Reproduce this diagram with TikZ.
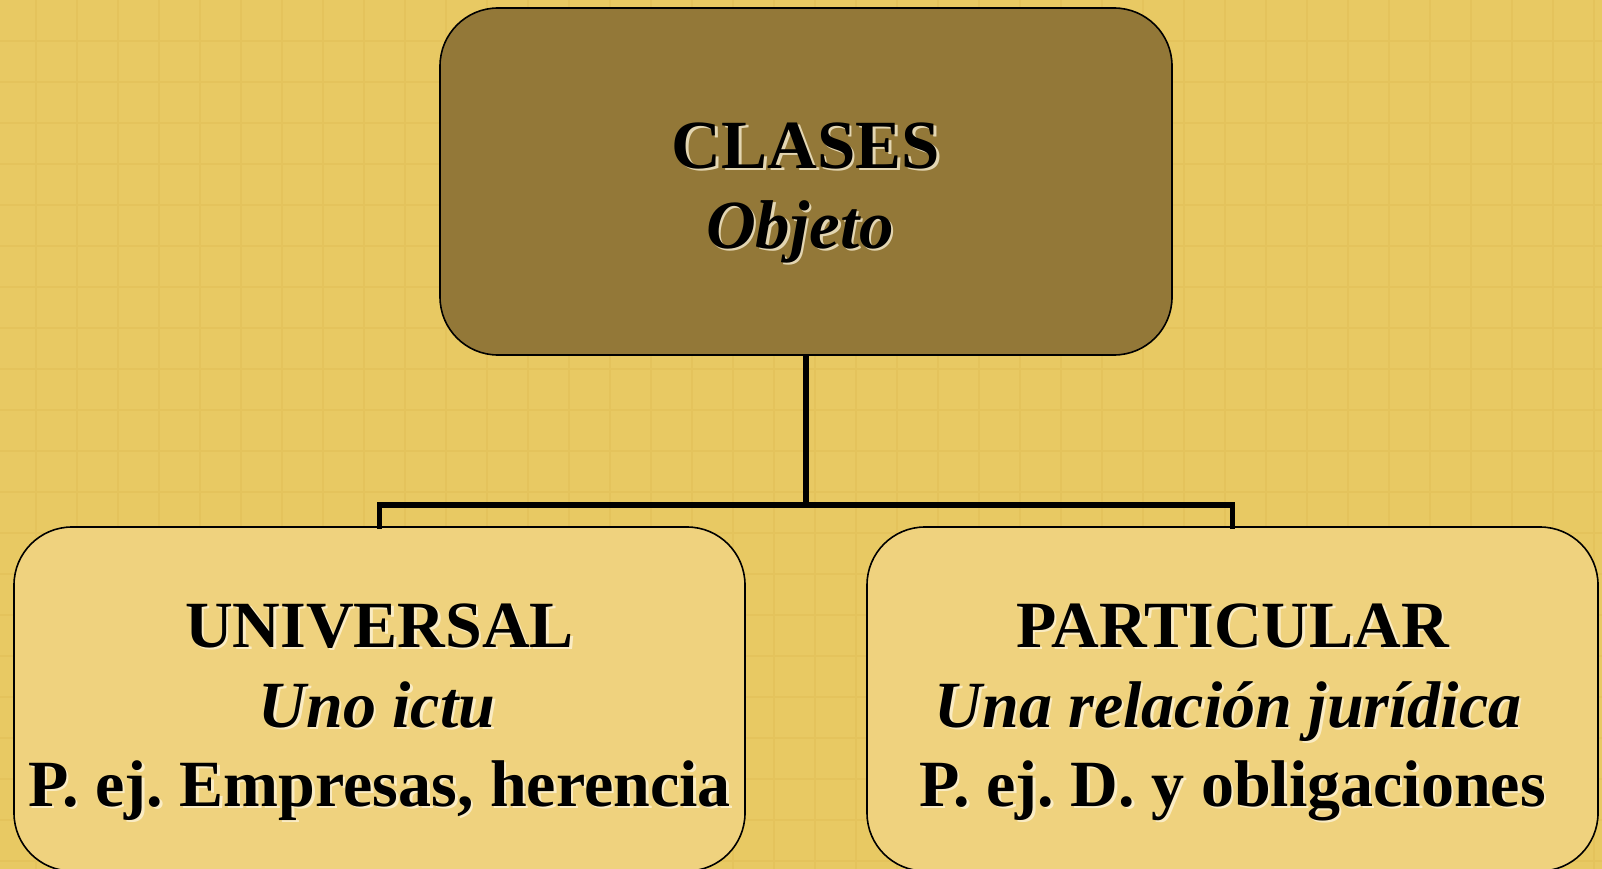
\documentclass[tikz,border=0pt]{standalone}
\usepackage{fontspec}
\setmainfont{Liberation Serif}
\definecolor{bgc}{HTML}{E8C963}
\definecolor{gridc}{HTML}{E4C35C}
\definecolor{topfill}{HTML}{937838}
\definecolor{botfill}{HTML}{EFD27E}
\definecolor{glowc}{HTML}{FFF6DC}
\tikzset{
  boxstyle/.style={draw=black, line width=1.6pt, rounded corners=58pt, inner sep=0pt},
  txt/.style={anchor=base, inner sep=0pt, text=black},
  glowsh/.style={anchor=base, inner sep=0pt, text=glowc, opacity=0.75},
  conn/.style={draw=black, line width=5.5pt},
}
\newcommand\glowline[5]{%
  \node[glowsh,font=#4] (#1s) at (#2+2.5,#3+2.5) {#5};
  \node[txt,font=#4] (#1) at (#2,#3) {#5};}
\frenchspacing
\begin{document}
\begin{tikzpicture}[x=1pt,y=-1pt]
\useasboundingbox (0,0) rectangle (1602,869);
\clip (0,0) rectangle (1602,869);
\fill[bgc] (0,0) rectangle (1602,869);
\foreach \i in {0,...,38} {\draw[gridc,line width=2pt] ({36+41*\i},0) -- ({36+41*\i},869);}
\foreach \j in {0,...,20} {\draw[gridc,line width=2pt] (0,{41+41*\j}) -- (1602,{41+41*\j});}
% boxes
\node[boxstyle, fill=topfill, minimum width=732pt, minimum height=347pt] (top) at (806,181.5) {};
\node[boxstyle, fill=botfill, minimum width=731pt, minimum height=344pt] (left) at (379.5,699) {};
\node[boxstyle, fill=botfill, minimum width=731pt, minimum height=344pt] (right) at (1232.5,699) {};
% connectors
\coordinate (bus) at (806,505);
\draw[conn] (top.south) -- (bus);
\draw[conn, line cap=rect] (bus) -| (left.north);
\draw[conn, line cap=rect] (bus) -| (right.north);
% texts
\def\tbf{\fontsize{69}{80}\selectfont\bfseries}
\def\tbi{\fontsize{69}{80}\selectfont\bfseries\itshape}
\def\bbf{\fontsize{66}{80}\selectfont\bfseries}
\def\bbi{\fontsize{66}{80}\selectfont\bfseries\itshape}
\glowline{t1}{806}{168}{\tbf}{CLASES}
\glowline{t2}{800}{248}{\tbi}{Objeto}
\glowline{l1}{379.5}{647}{\bbf}{UNIVERSAL}
\glowline{l2}{377}{727}{\bbi}{Uno ictu}
\glowline{l3}{379.5}{806}{\bbf}{P. ej. Empresas, herencia}
\glowline{r1}{1232.5}{647}{\bbf}{PARTICULAR}
\glowline{r2}{1228}{727}{\bbi}{Una relación jurídica}
\glowline{r3}{1232.5}{806}{\bbf}{P. ej. D. y obligaciones}
\end{tikzpicture}
\end{document}
